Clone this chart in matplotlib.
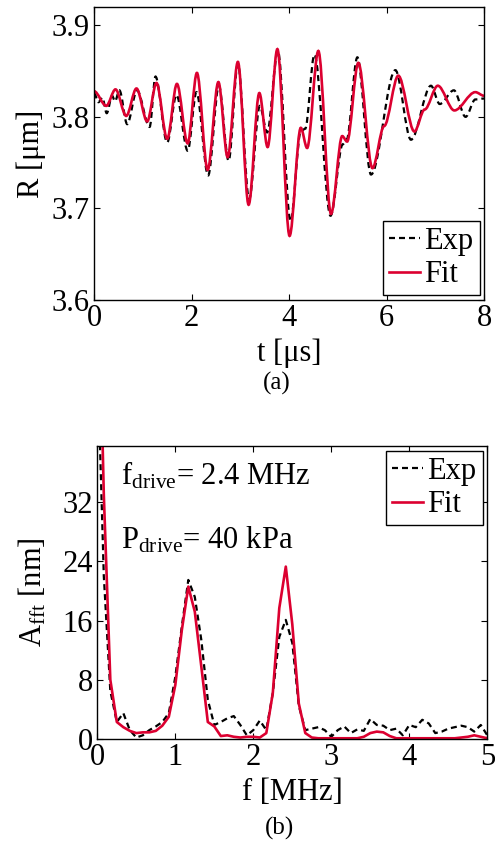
import numpy as np
import matplotlib.pyplot as plt
from matplotlib.path import Path
from matplotlib.patches import PathPatch
from matplotlib.lines import Line2D

plt.rcParams['font.family'] = ['Liberation Serif', 'DejaVu Serif']
plt.rcParams['mathtext.fontset'] = 'custom'
plt.rcParams['mathtext.rm'] = 'Liberation Serif'
plt.rcParams['mathtext.it'] = 'Liberation Serif:italic'

RED = '#dc0030'

# (a) radius vs time, values at extrema / shoulders
t_fit = [0.00, 0.25, 0.44, 0.66, 0.87, 1.09, 1.28, 1.50, 1.70, 1.92, 2.11, 2.33,
         2.55, 2.74, 2.95, 3.17, 3.39, 3.56, 3.76, 4.01, 4.24, 4.37, 4.60, 4.86,
         5.09, 5.19, 5.42, 5.71, 5.95, 6.24, 6.57, 6.78, 7.05, 7.39, 7.82, 8.00]
r_fit = [3.828, 3.812, 3.830, 3.801, 3.831, 3.795, 3.837, 3.776, 3.836, 3.771, 3.848, 3.742,
         3.838, 3.756, 3.860, 3.704, 3.826, 3.767, 3.874, 3.670, 3.788, 3.766, 3.872, 3.694,
         3.779, 3.773, 3.859, 3.744, 3.790, 3.845, 3.784, 3.808, 3.834, 3.807, 3.827, 3.823]

t_exp = [0.00, 0.09, 0.17, 0.26, 0.37, 0.43, 0.52, 0.68, 0.88, 1.14, 1.26, 1.50,
         1.69, 1.92, 2.10, 2.34, 2.56, 2.76, 2.95, 3.18, 3.40, 3.55, 3.77, 4.03,
         4.24, 4.33, 4.52, 4.85, 5.10, 5.18, 5.40, 5.68, 6.18, 6.50, 6.91, 7.09,
         7.38, 7.62, 7.82, 8.00]
r_exp = [3.826, 3.816, 3.821, 3.804, 3.823, 3.817, 3.829, 3.792, 3.829, 3.789, 3.844, 3.772,
         3.824, 3.763, 3.827, 3.736, 3.834, 3.752, 3.858, 3.710, 3.812, 3.783, 3.872, 3.686,
         3.784, 3.787, 3.868, 3.692, 3.770, 3.775, 3.865, 3.737, 3.851, 3.775, 3.834, 3.814,
         3.829, 3.800, 3.819, 3.820]

# (b) FFT amplitude, frequency step 1/12 MHz
f_mhz = np.arange(61) / 12.0
a_exp = [52, 22, 6.5, 2.3, 3.5, 1.2, 0.2, 0.5, 1.2, 1.7, 2.3, 3.5,
         8.4, 15.2, 21.5, 19.2, 13.4, 5.3, 1.9, 2.3, 2.8, 3.1, 1.9, 0.5,
         1.2, 2.5, 1.2, 6.2, 13.8, 16.1, 13.0, 4.5, 1.2, 1.4, 1.6, 1.2,
         0.3, 1.2, 1.7, 0.8, 1.3, 1.1, 2.7, 1.9, 1.8, 1.2, 1.4, 0.5,
         1.9, 1.6, 2.6, 2.1, 0.8, 1.0, 1.4, 1.6, 1.8, 1.6, 1.0, 1.9, 0.5]
a_fit = [70, 33, 8.0, 2.3, 1.6, 1.1, 0.8, 0.9, 0.9, 1.1, 1.8, 3.0,
         7.3, 14.7, 20.6, 17.2, 9.8, 2.3, 1.7, 0.4, 0.5, 0.3, 0.2, 0.3,
         0.3, 0.2, 0.8, 6.2, 17.7, 23.3, 15.5, 4.8, 0.8, 0.2, 0.1, 0.1,
         0.1, 0.1, 0.1, 0.1, 0.1, 0.3, 0.8, 1.0, 0.9, 0.4, 0.1, 0.1,
         0.1, 0.1, 0.1, 0.1, 0.1, 0.1, 0.1, 0.1, 0.2, 0.3, 0.5, 0.3, 0.1]


def smooth_path(t, r):
    # cubic segments with flat tangents at each read extremum
    verts = [(t[0], r[0])]
    codes = [Path.MOVETO]
    for i in range(1, len(t)):
        dt = t[i] - t[i - 1]
        verts += [(t[i - 1] + dt / 3, r[i - 1]), (t[i] - dt / 3, r[i]), (t[i], r[i])]
        codes += [Path.CURVE4] * 3
    return Path(verts, codes)


def style_axes(ax):
    ax.tick_params(direction='in', top=True, right=True, length=4, width=0.8,
                   labelsize=22, pad=3)
    for s in ax.spines.values():
        s.set_linewidth(1.0)


leg_kw = dict(fontsize=22, frameon=True, fancybox=False, edgecolor='k', framealpha=1,
              handlelength=1.0, handletextpad=0.15, borderpad=0.2, labelspacing=0.15,
              borderaxespad=0.15)

fig = plt.figure(figsize=(4.95, 8.51), dpi=100)

ax1 = fig.add_axes([0.190, 0.6475, 0.788, 0.3443])
ax1.add_patch(PathPatch(smooth_path(t_exp, r_exp), fill=False, edgecolor='k', lw=1.6,
                        linestyle=(0, (2.7, 1.8)), transform=ax1.transData))
ax1.add_patch(PathPatch(smooth_path(t_fit, r_fit), fill=False, edgecolor=RED, lw=1.9,
                        transform=ax1.transData))
ax1.set_xlim(0, 8)
ax1.set_ylim(3.6, 3.92)
ax1.set_xticks([0, 2, 4, 6, 8])
ax1.set_yticks([3.6, 3.7, 3.8, 3.9])
ax1.set_yticklabels(['3.6', '3.7', '3.8', '3.9'])
ax1.set_xlabel('t [μs]', fontsize=22, labelpad=4)
ax1.set_ylabel('R [μm]', fontsize=22, labelpad=4)
style_axes(ax1)
handles = [Line2D([], [], color='k', lw=1.6, linestyle=(0, (2.7, 1.8))),
           Line2D([], [], color=RED, lw=1.9)]
ax1.legend(handles, ['Exp', 'Fit'], loc='lower right', **leg_kw)
fig.text(0.56, 0.549, '(a)', fontsize=18, ha='center', va='center')

ax2 = fig.add_axes([0.1966, 0.1316, 0.7878, 0.3443])
ax2.plot(f_mhz, a_exp, color='k', lw=1.6, linestyle=(0, (2.7, 1.8)), label='Exp')
ax2.plot(f_mhz, a_fit, color=RED, lw=1.9, label='Fit')
ax2.set_xlim(0, 5)
ax2.set_ylim(0, 39.6)
ax2.set_xticks([0, 1, 2, 3, 4, 5])
ax2.set_yticks([0, 8, 16, 24, 32])
ax2.set_xlabel('f [MHz]', fontsize=22, labelpad=4)
ax2.set_ylabel(r'A$_{\mathrm{fft}}$ [nm]', fontsize=22, labelpad=10)
style_axes(ax2)
ax2.legend(loc='upper right', **leg_kw)
ax2.text(0.06, 0.9, r'f$_{\mathrm{drive}}$= 2.4 MHz', transform=ax2.transAxes,
         fontsize=22, va='center')
ax2.text(0.06, 0.68, r'P$_{\mathrm{drive}}$= 40 kPa', transform=ax2.transAxes,
         fontsize=22, va='center')
fig.text(0.565, 0.027, '(b)', fontsize=18, ha='center', va='center')

fig.savefig('out.png', dpi=100)
